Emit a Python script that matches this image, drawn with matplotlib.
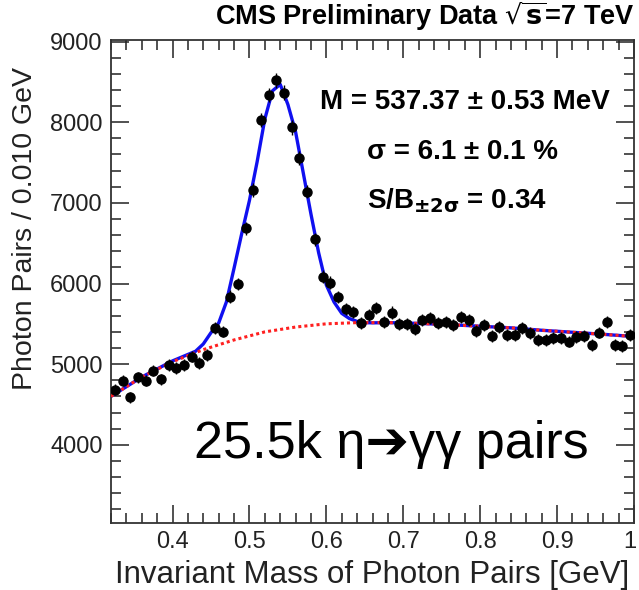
import numpy as np
import matplotlib.pyplot as plt
from matplotlib.ticker import MultipleLocator
from matplotlib.transforms import ScaledTranslation

plt.rcParams["font.family"] = ["Liberation Sans", "DejaVu Sans"]

# data points (bin centres, 0.010 GeV bins)
mass = np.round(np.arange(0.325, 1.0, 0.01), 3)
counts = [
    4681, 4797, 4591, 4839, 4797, 4921, 4814, 4991, 4950, 4991,
    5094, 5012, 5115, 5446, 5404, 5838, 5995, 6685, 7160, 8027,
    8337, 8523, 8366, 7937, 7553, 7139, 6549, 6086, 6011, 5830,
    5681, 5652, 5515, 5611, 5701, 5528, 5640, 5499, 5499, 5434,
    5549, 5570, 5515, 5528, 5487, 5590, 5549, 5416, 5487, 5351,
    5466, 5363, 5363, 5446, 5384, 5301, 5301, 5322, 5322, 5280,
    5335, 5351, 5239, 5392, 5528, 5239, 5227, 5363,
]
errors = np.sqrt(counts)

# background fit (red dotted)
bkg_x = [0.32, 0.36, 0.40, 0.44, 0.48, 0.52, 0.56, 0.60, 0.64, 0.68,
         0.72, 0.76, 0.80, 0.84, 0.88, 0.92, 0.96, 1.00]
bkg_y = [4600, 4840, 5030, 5180, 5300, 5400, 5460, 5500, 5515, 5515,
         5505, 5490, 5470, 5450, 5420, 5395, 5370, 5342]

# signal + background fit (blue)
fit_x = [0.32, 0.36, 0.40, 0.43, 0.44, 0.45, 0.46, 0.47, 0.48, 0.49,
         0.50, 0.51, 0.52, 0.53, 0.54, 0.55, 0.56, 0.57, 0.58, 0.59,
         0.60, 0.61, 0.62, 0.63, 0.64, 0.65, 0.66, 0.68, 0.72, 0.76,
         0.80, 0.84, 0.88, 0.92, 0.96, 1.00]
fit_y = [4600, 4840, 5040, 5160, 5250, 5390, 5510, 5770, 6190, 6620,
         7030, 7510, 8040, 8390, 8470, 8220, 7880, 7370, 6860, 6380,
         5980, 5770, 5630, 5565, 5530, 5515, 5512, 5515, 5505, 5490,
         5470, 5450, 5420, 5395, 5370, 5342]

fig = plt.figure(figsize=(6.39, 5.90), dpi=100)
ax = fig.add_axes([0.1737, 0.1136, 0.8185, 0.8186])

ax.plot(fit_x, fit_y, color="#1010f0", lw=2.4, zorder=2)
ax.plot(bkg_x, bkg_y, color="#ff2020", lw=2.2, ls=(0, (1, 1.0)), zorder=3)
ax.errorbar(mass, counts, yerr=errors, fmt="o", color="black", ms=6.5,
            elinewidth=1, capsize=0, zorder=4)

ax.set_xlim(0.32, 1.0)
ax.set_ylim(3030, 9020)
ax.xaxis.set_minor_locator(MultipleLocator(0.02))
ax.yaxis.set_minor_locator(MultipleLocator(200))
ax.set_xticks([0.4, 0.5, 0.6, 0.7, 0.8, 0.9, 1.0])
ax.set_xticklabels(["0.4", "0.5", "0.6", "0.7", "0.8", "0.9", "1"])
ax.set_yticks([4000, 5000, 6000, 7000, 8000, 9000])
ax.tick_params(which="both", direction="in", top=True, right=True,
               labelsize=17, colors="#222222", width=1.1)
ax.tick_params(which="major", length=13, pad=6)
ax.tick_params(which="minor", length=7)
last = ax.get_xticklabels()[-1]
last.set_transform(last.get_transform() + ScaledTranslation(-0.04, 0, fig.dpi_scale_trans))
for s in ax.spines.values():
    s.set_linewidth(1.3)
    s.set_color("#333333")

ax.set_xlabel("Invariant Mass of Photon Pairs [GeV]", fontsize=22.5,
              color="#222222", labelpad=5)
ax.set_ylabel("Photon Pairs / 0.010 GeV", fontsize=20.5, color="#222222")
ax.yaxis.set_label_coords(-0.14, 0.61)

fig.text(0.993, 0.972, r"CMS Preliminary Data $\sqrt{\mathbf{s}}$=7 TeV",
         ha="right", va="center", fontsize=19.5, fontweight="bold")

ax.text(0.40, 0.871, "M = 537.37 ± 0.53 MeV", transform=ax.transAxes,
        ha="left", va="center", fontsize=20, fontweight="bold")
ax.text(0.673, 0.768, "σ = 6.1 ± 0.1 %", transform=ax.transAxes,
        ha="center", va="center", fontsize=20, fontweight="bold")
ax.text(0.662, 0.668, r"S/B$_{\mathbf{\pm2\sigma}}$ = 0.34",
        transform=ax.transAxes, ha="center", va="center", fontsize=20,
        fontweight="bold")

ax.text(0.158, 0.163, "25.5k η➔γγ pairs", transform=ax.transAxes,
        ha="left", va="center", fontsize=37.5)

fig.savefig("out.png", dpi=100)
